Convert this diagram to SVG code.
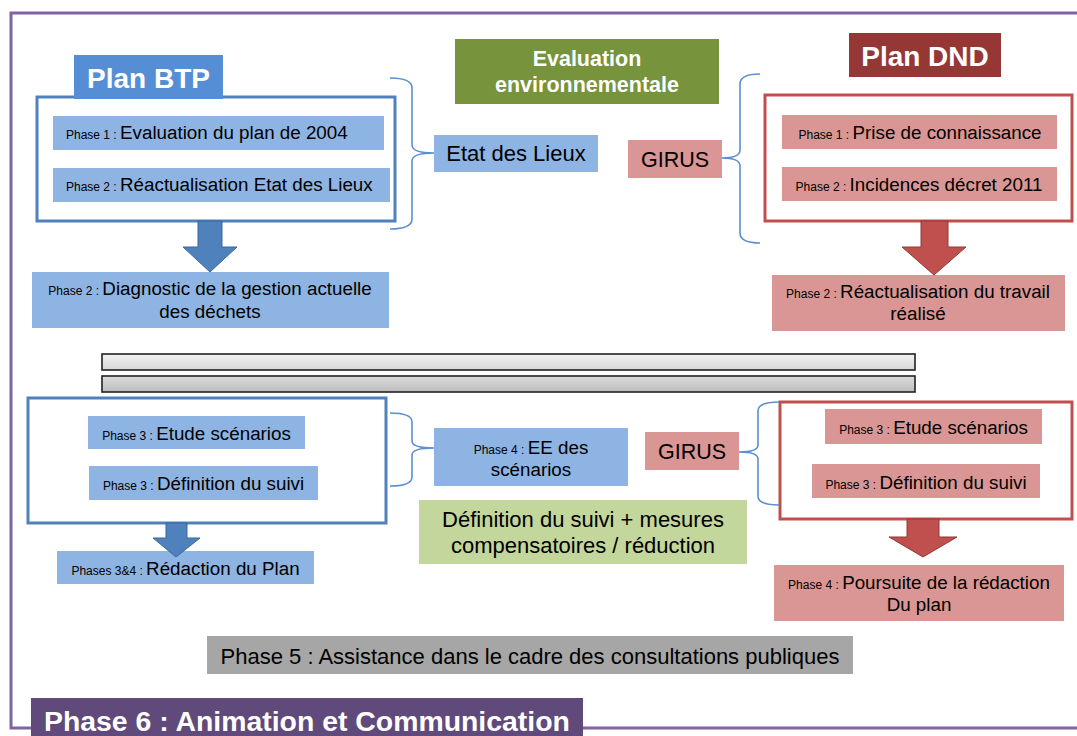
<svg xmlns="http://www.w3.org/2000/svg" width="1077" height="736" viewBox="0 0 1077 736">
<defs>
<style>
text{font-family:"Liberation Sans",Arial,sans-serif;fill:#000}
.m{font-size:18.8px}
.s{font-size:12px}
.b{font-weight:bold;fill:#fff}
.c{text-anchor:middle}
.blue{fill:#8EB4E3}
.pink{fill:#D99694}
.brace{fill:none;stroke:#5B8FD0;stroke-width:1.6}
.bar{stroke:#222;stroke-width:1.6}
</style>
<linearGradient id="g1" x1="0" y1="0" x2="0" y2="1"><stop offset="0" stop-color="#F2F2F2"/><stop offset="1" stop-color="#D6D6D6"/></linearGradient>
<linearGradient id="g2" x1="0" y1="0" x2="0" y2="1"><stop offset="0" stop-color="#DCDCDC"/><stop offset="1" stop-color="#BDBDBD"/></linearGradient>
</defs>
<rect width="1077" height="736" fill="#fff"/>
<path d="M1090,13 H11 V728 H1090" fill="none" stroke="#8064A2" stroke-width="3"/>

<g id="btp-top">
<rect x="37" y="97" width="358" height="124" fill="#fff" stroke="#4F81BD" stroke-width="3"/>
<rect x="74" y="55" width="149" height="44" fill="#558ED5"/>
<text class="b c" x="148.5" y="88" font-size="28">Plan BTP</text>
<rect class="blue" x="53" y="116" width="331" height="34"/>
<text class="m" x="66" y="139"><tspan class="s">Phase 1 : </tspan>Evaluation du plan de 2004</text>
<rect class="blue" x="53" y="168" width="337" height="34"/>
<text class="m" x="66" y="191"><tspan class="s">Phase 2 : </tspan>Réactualisation Etat des Lieux</text>
</g>
<g id="btp-diag">
<rect class="blue" x="32" y="272" width="357" height="56"/>
<text class="m c" x="210" y="295"><tspan class="s">Phase 2 : </tspan>Diagnostic de la gestion actuelle</text>
<text class="m c" x="210" y="318">des déchets</text>
</g>
<g id="eval-env">
<rect x="455" y="39" width="264" height="65" fill="#77933C"/>
<text class="b c" x="587" y="66" font-size="21.5">Evaluation</text>
<text class="b c" x="587" y="92" font-size="21.5">environnementale</text>
</g>
<g id="etat-lieux">
<rect class="blue" x="434" y="135" width="164" height="37"/>
<text class="c" x="516" y="161" font-size="22">Etat des Lieux</text>
</g>
<g id="girus-top">
<rect class="pink" x="628" y="140" width="94" height="38"/>
<text class="c" x="675" y="167" font-size="21.5">GIRUS</text>
</g>
<g id="dnd-top">
<rect x="765" y="95" width="307" height="126" fill="#fff" stroke="#C0504D" stroke-width="3"/>
<rect x="849" y="33" width="152" height="44" fill="#953735"/>
<text class="b c" x="925" y="66" font-size="28">Plan DND</text>
<rect class="pink" x="782" y="115" width="275" height="34"/>
<text class="m c" x="920" y="139"><tspan class="s">Phase 1 : </tspan>Prise de connaissance</text>
<rect class="pink" x="782" y="167" width="275" height="34"/>
<text class="m c" x="919" y="191"><tspan class="s">Phase 2 : </tspan>Incidences décret 2011</text>
</g>
<g id="dnd-reac">
<rect class="pink" x="772" y="275" width="293" height="56"/>
<text class="m c" x="918" y="298"><tspan class="s">Phase 2 : </tspan>Réactualisation du travail</text>
<text class="m c" x="918" y="320">réalisé</text>
</g>

<g id="separator">
<rect class="bar" x="102" y="354" width="813" height="16" fill="url(#g1)"/>
<rect class="bar" x="102" y="376" width="813" height="16" fill="url(#g2)"/>
</g>

<g id="btp-bottom">
<rect x="28" y="398" width="358" height="125" fill="#fff" stroke="#4F81BD" stroke-width="3"/>
<rect class="blue" x="88" y="416" width="217" height="33"/>
<text class="m c" x="196.5" y="440"><tspan class="s">Phase 3 : </tspan>Etude scénarios</text>
<rect class="blue" x="89" y="466" width="229" height="34"/>
<text class="m c" x="203.5" y="490"><tspan class="s">Phase 3 : </tspan>Définition du suivi</text>
</g>
<g id="btp-redaction">
<rect class="blue" x="57" y="551" width="257" height="33"/>
<text class="m c" x="185.5" y="575"><tspan class="s">Phases 3&amp;4 : </tspan>Rédaction du Plan</text>
</g>
<g id="ee-scenarios">
<rect class="blue" x="434" y="428" width="194" height="58"/>
<text class="m c" x="531" y="454"><tspan class="s">Phase 4 : </tspan>EE des</text>
<text class="m c" x="531" y="476">scénarios</text>
</g>
<g id="suivi-mesures">
<rect x="419" y="500" width="328" height="64" fill="#C3D69B"/>
<text class="c" x="583" y="527" font-size="22">Définition du suivi + mesures</text>
<text class="c" x="583" y="553" font-size="22">compensatoires / réduction</text>
</g>
<g id="girus-bottom">
<rect class="pink" x="645" y="432" width="94" height="38"/>
<text class="c" x="692" y="459" font-size="21.5">GIRUS</text>
</g>
<g id="dnd-bottom">
<rect x="780" y="402" width="292" height="117" fill="#fff" stroke="#C0504D" stroke-width="3"/>
<rect class="pink" x="825" y="409" width="217" height="35"/>
<text class="m c" x="933.5" y="434"><tspan class="s">Phase 3 : </tspan>Etude scénarios</text>
<rect class="pink" x="812" y="464" width="228" height="34"/>
<text class="m c" x="926" y="489"><tspan class="s">Phase 3 : </tspan>Définition du suivi</text>
</g>
<g id="dnd-poursuite">
<rect class="pink" x="774" y="565" width="290" height="56"/>
<text class="m c" x="919" y="589"><tspan class="s">Phase 4 : </tspan>Poursuite de la rédaction</text>
<text class="m c" x="919" y="611">Du plan</text>
</g>
<g id="phase5">
<rect x="207" y="636" width="646" height="38" fill="#A6A6A6"/>
<text class="c" x="530" y="664" font-size="22">Phase 5 : Assistance dans le cadre des consultations publiques</text>
</g>
<g id="phase6">
<rect x="31" y="698" width="552" height="40" fill="#604A7B"/>
<text class="b" x="44" y="731" font-size="28.4">Phase 6 : Animation et Communication</text>
</g>

<g id="connectors">
<path class="brace" d="M390,78 Q412,78 412,88 V145 Q412,153 434,153 Q412,153 412,161 V219 Q412,229 390,229"/>
<path class="brace" d="M760,74 Q740,74 740,84 V150 Q740,158 722,158 Q740,158 740,166 V233 Q740,243 760,243"/>
<path class="brace" d="M390,413 Q412,413 412,422 V441 Q412,448 434,448 Q412,448 412,455 V477 Q412,486 390,486"/>
<path class="brace" d="M779,402 Q758,402 758,411 V445 Q758,452 739,452 Q758,452 758,459 V496 Q758,505 779,505"/>
<polygon points="198,221 222,221 222,247 237,247 210,272 183,247 198,247" fill="#4F81BD" stroke="#3B679C" stroke-width="1"/>
<polygon points="921,221 948,221 948,247 966,247 934,275 902,247 921,247" fill="#C0504D" stroke="#8E3B38" stroke-width="1"/>
<polygon points="166,523 187,523 187,538 200,538 176,557 153,538 166,538" fill="#4F81BD" stroke="#3B679C" stroke-width="1"/>
<polygon points="907,519 939,519 939,537 957,537 923,557 889,537 907,537" fill="#C0504D" stroke="#8E3B38" stroke-width="1"/>
</g>
</svg>
